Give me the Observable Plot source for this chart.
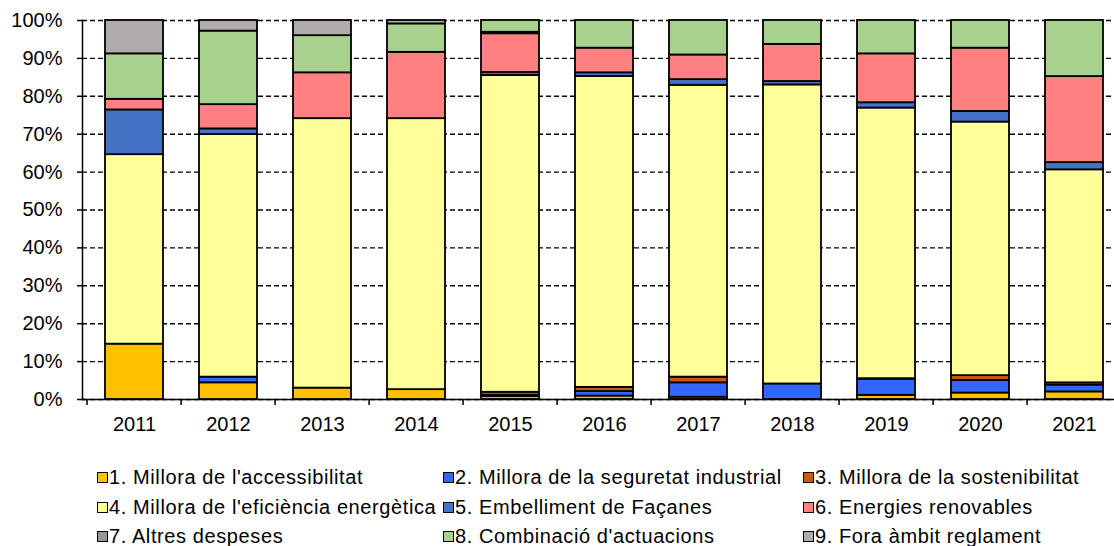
<!DOCTYPE html>
<html><head><meta charset="utf-8">
<script src="https://cdn.jsdelivr.net/npm/d3@7"></script>
<script src="https://cdn.jsdelivr.net/npm/@observablehq/plot@0.6"></script>
<style>
body{margin:0;background:#fff;font-family:"Liberation Sans",Arial,sans-serif;}
#wrap{position:relative;width:1114px;height:546px;overflow:hidden;background:#fff;}
.legend{position:absolute;left:0;top:0;width:1114px;height:546px;font-size:20px;letter-spacing:0.6px;color:#000;pointer-events:none;}
.item{position:absolute;display:flex;align-items:center;white-space:nowrap;height:22px;line-height:22px;}
.sw{width:9px;height:9px;border:1px solid #000;margin-right:1px;flex:none;}
</style></head><body><div id="wrap"></div>
<script>
const years = ["2011","2012","2013","2014","2015","2016","2017","2018","2019","2020","2021"];
const categories = [
  "1. Millora de l'accessibilitat",
  "2. Millora de la seguretat industrial",
  "3. Millora de la sostenibilitat",
  "4. Millora de l'eficiència energètica",
  "5. Embelliment de Façanes",
  "6. Energies renovables",
  "7. Altres despeses",
  "8. Combinació d'actuacions",
  "9. Fora àmbit reglament"
];
const colors = ["#FFC000","#3366FF","#C55A11","#FFFF99","#4472C4","#FF8080","#969696","#A9D18E","#B0ACAB"];
const yTicks = [0,0.1,0.2,0.3,0.4,0.5,0.6,0.7,0.8,0.9,1];

// share (%) per year, one array per category
const s1 = [14.6, 4.4, 3.0, 2.6, 0.8, 0.9, 0.6, 0.0, 1.1, 1.7, 2.0];
const s2 = [0.0, 1.5, 0.0, 0.0, 0.3, 1.2, 3.8, 4.1, 4.2, 3.3, 1.8];
const s3 = [0.0, 0.0, 0.0, 0.0, 0.8, 1.1, 1.5, 0.0, 0.2, 1.3, 0.6];
const s4 = [50.0, 64.0, 71.1, 71.5, 83.6, 82.0, 77.0, 78.9, 71.4, 66.9, 56.2];
const s5 = [11.8, 1.5, 0.0, 0.0, 0.8, 1.0, 1.5, 0.9, 1.4, 2.8, 1.9];
const s6 = [2.8, 6.4, 12.1, 17.5, 10.2, 6.5, 6.5, 9.8, 12.9, 16.7, 22.7];
const s7 = [0.0, 0.0, 0.0, 0.0, 0.4, 0.0, 0.0, 0.0, 0.0, 0.0, 0.0];
const s8 = [12.0, 19.4, 9.8, 7.5, 3.1, 7.3, 9.1, 6.3, 8.8, 7.3, 14.8];
const s9 = [8.8, 2.8, 4.0, 0.9, 0.0, 0.0, 0.0, 0.0, 0.0, 0.0, 0.0];
const series = [s1, s2, s3, s4, s5, s6, s7, s8, s9];

const rows = [];
years.forEach((yr, i) => categories.forEach((c, k) => {
  if (series[k][i] > 0) rows.push({year: yr, category: c, value: series[k][i]});
}));

const W = 1114, H = 440;
const xRange = [82, 1125.5];
const step = (xRange[1] - xRange[0]) / years.length;
const font = "Liberation Sans, Arial, sans-serif";

const chart = Plot.plot({
  width: W, height: H,
  marginLeft: 82, marginRight: 0, marginTop: 20, marginBottom: 41,
  style: {fontFamily: font, fontSize: "20px", color: "#000", background: "#fff"},
  x: {type: "band", domain: years, range: xRange, paddingInner: 0.378, paddingOuter: 0.189, label: null},
  y: {domain: [0, 1], label: null},
  color: {domain: categories, range: colors},
  marks: [
    Plot.gridY({ticks: yTicks, stroke: "#000", strokeOpacity: 1, strokeWidth: 1.4, strokeDasharray: "5,3"}),
    Plot.barY(rows, Plot.stackY({x: "year", y: "value", fill: "category", offset: "normalize", stroke: "#000", strokeWidth: 1.8})),
    Plot.frame({anchor: "left", stroke: "#000", strokeWidth: 1.5}),
    Plot.frame({anchor: "bottom", stroke: "#000", strokeWidth: 1.5}),
    Plot.axisY({ticks: yTicks, tickFormat: d3.format(".0%"), tickSize: 5, tickPadding: 15, stroke: "#000", strokeWidth: 1.5, fill: "#000", fontSize: 20, label: null}),
    Plot.axisX({tickSize: 0, tickPadding: 17, fill: "#000", fontSize: 20, label: null}),
    Plot.axisX({tickSize: 6, dx: -step / 2, tickFormat: () => "", stroke: "#000", strokeWidth: 1.5, label: null})
  ]
});

const wrap = document.getElementById("wrap");
wrap.appendChild(chart);

const legend = document.createElement("div");
legend.className = "legend";
const colLeft = [97, 443, 803];
const rowCenter = [477, 507, 536];
categories.forEach((c, k) => {
  const item = document.createElement("div");
  item.className = "item";
  item.style.left = colLeft[k % 3] + "px";
  item.style.top = (rowCenter[Math.floor(k / 3)] - 11) + "px";
  const sw = document.createElement("span");
  sw.className = "sw";
  sw.style.background = colors[k];
  const t = document.createElement("span");
  t.textContent = c;
  item.appendChild(sw);
  item.appendChild(t);
  legend.appendChild(item);
});
wrap.appendChild(legend);
</script>
</body></html>
